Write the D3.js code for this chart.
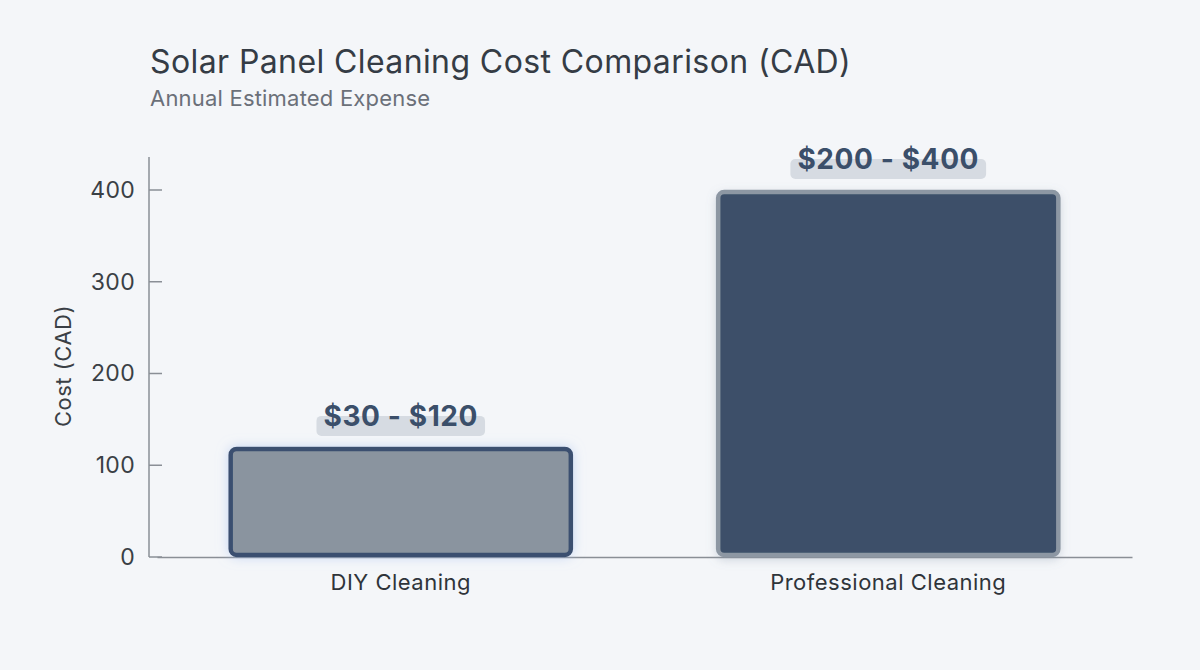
<!DOCTYPE html>
<html><head><meta charset="utf-8">
<script src="https://cdn.jsdelivr.net/npm/d3@7"></script>
<style>
html,body{margin:0;padding:0;background:#f4f6f9;}
svg{display:block;font-family:Inter, "Noto Sans", sans-serif;}
</style></head>
<body><svg id="c" width="1200" height="670"></svg>
<script>
const categories = ["DIY Cleaning", "Professional Cleaning"];
const maxCost = [120, 400];
const rangeLabels = ["$30 - $120", "$200 - $400"];
const yTicks = [0, 100, 200, 300, 400];

const svg = d3.select("#c");
const W = 1200, H = 670;
svg.append("rect").attr("width", W).attr("height", H).attr("fill", "#f4f6f9");

const defs = svg.append("defs");
const f1 = defs.append("filter").attr("id","glow").attr("x","-20%").attr("y","-30%").attr("width","140%").attr("height","160%");
f1.append("feDropShadow").attr("dx",0).attr("dy",0).attr("stdDeviation",6).attr("flood-color","#a6bfee").attr("flood-opacity",0.6);
const f2 = defs.append("filter").attr("id","shadow").attr("x","-20%").attr("y","-20%").attr("width","140%").attr("height","140%");
f2.append("feDropShadow").attr("dx",0).attr("dy",3).attr("stdDeviation",5).attr("flood-color","#7a8aa0").attr("flood-opacity",0.3);

const x = d3.scaleBand().domain(categories).range([157, 1132]).paddingInner(0.294).paddingOuter(0.147);
const y = d3.scaleLinear().domain([0, 400]).range([557, 190]);

// title
svg.append("text").attr("x",150).attr("y",73).attr("font-size",32).attr("letter-spacing",0.4).attr("fill","#353c45").text("Solar Panel Cleaning Cost Comparison (CAD)");
svg.append("text").attr("x",150).attr("y",106).attr("font-size",22).attr("letter-spacing",0.2).attr("fill","#6b7079").text("Annual Estimated Expense");

// y axis
const yAxis = d3.axisLeft(y).tickValues(yTicks).tickSize(0).tickPadding(14);
const gy = svg.append("g").attr("transform","translate(149,0)").call(yAxis);
gy.select(".domain").remove();
gy.selectAll("text").attr("font-size",23).attr("letter-spacing",0.3).attr("fill","#3a3f45").attr("font-family","Inter, sans-serif");
gy.append("line").attr("x1",0).attr("x2",0).attr("y1",157).attr("y2",557).attr("stroke","#8a8f96").attr("stroke-width",1.5);
gy.selectAll(".tk").data(yTicks).enter().append("line").attr("class","tk")
  .attr("x1",0).attr("x2",13).attr("y1",d=>y(d)).attr("y2",d=>y(d)).attr("stroke","#8a8f96").attr("stroke-width",1.5);

// x axis
const xAxis = d3.axisBottom(x).tickSize(0).tickPadding(17);
const gx = svg.append("g").attr("transform","translate(0,557)").call(xAxis);
gx.select(".domain").attr("stroke","#8a8f96").attr("stroke-width",1.5);
gx.selectAll("text").attr("font-size",22).attr("letter-spacing",0.5).attr("fill","#2f343a").attr("font-family","Inter, sans-serif");

svg.append("text").attr("transform","translate(71,366) rotate(-90)").attr("text-anchor","middle")
  .attr("font-size",22).attr("letter-spacing",0.5).attr("fill","#3a3f45").text("Cost (CAD)");

const fills = ["#8a949f", "#3d5069"];
const strokes = ["#3b5070", "#8d97a3"];
const filters = ["url(#glow)", "url(#shadow)"];

const bars = svg.append("g");
categories.forEach((c, i) => {
  bars.append("rect")
    .attr("x", x(c) + 2).attr("y", y(maxCost[i]) + 2)
    .attr("width", x.bandwidth() - 4).attr("height", y(0) - y(maxCost[i]) - 4)
    .attr("rx", 6).attr("fill", fills[i]).attr("stroke", strokes[i]).attr("stroke-width", 4.5)
    .attr("filter", filters[i]);
});

// value labels
const lab = svg.append("g");
categories.forEach((c, i) => {
  const cx = x(c) + x.bandwidth()/2;
  const ty = y(maxCost[i]) - 21;
  const t = lab.append("text").attr("x", cx).attr("y", ty).attr("text-anchor","middle")
    .attr("font-size",28).attr("font-weight",700).attr("letter-spacing",0.6).attr("fill","#3b4f6a").text(rangeLabels[i]);
  const bb = t.node().getBBox();
  lab.insert("rect","text").attr("x", bb.x - 7).attr("y", ty - 10).attr("width", bb.width + 14).attr("height", 20)
    .attr("rx", 5).attr("fill","#d3d8df").attr("opacity",0.9);
});
</script></body></html>
